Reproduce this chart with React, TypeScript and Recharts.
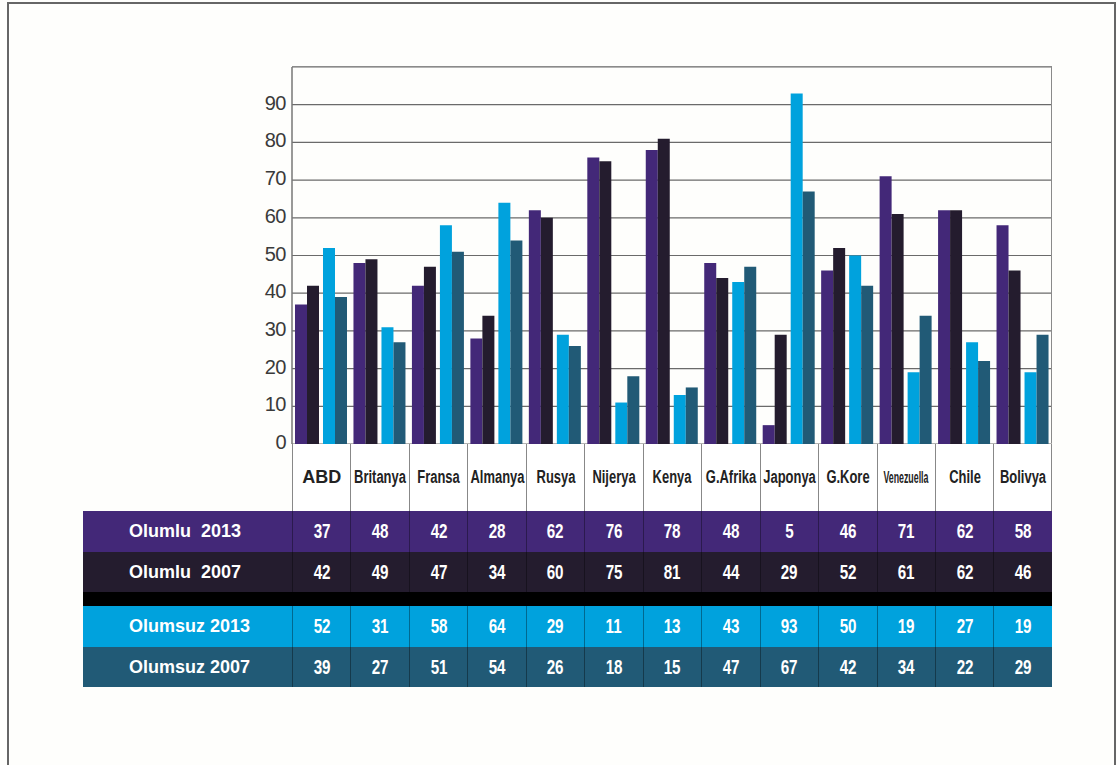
import React from "react";
import { BarChart, Bar, XAxis, YAxis, CartesianGrid } from "recharts";

const countries = ["ABD", "Britanya", "Fransa", "Almanya", "Rusya", "Nijerya", "Kenya", "G.Afrika", "Japonya", "G.Kore", "Venezuella", "Chile", "Bolivya"];
const olumlu2013 = [37, 48, 42, 28, 62, 76, 78, 48, 5, 46, 71, 62, 58];
const olumlu2007 = [42, 49, 47, 34, 60, 75, 81, 44, 29, 52, 61, 62, 46];
const olumsuz2013 = [52, 31, 58, 64, 29, 11, 13, 43, 93, 50, 19, 27, 19];
const olumsuz2007 = [39, 27, 51, 54, 26, 18, 15, 47, 67, 42, 34, 22, 29];
const yTicks = [0, 10, 20, 30, 40, 50, 60, 70, 80, 90];

const rowLabels = ["Olumlu  2013", "Olumlu  2007", "Olumsuz 2013", "Olumsuz 2007"];
const colors = ["#432878", "#241c2e", "#00a2dd", "#215a76"];

const data = countries.map((c, i) => ({
  name: c,
  p13: olumlu2013[i],
  p07: olumlu2007[i],
  n13: olumsuz2013[i],
  n07: olumsuz2007[i],
}));

const rows = [olumlu2013, olumlu2007, olumsuz2013, olumsuz2007];

const sans = "'Liberation Sans', Arial, sans-serif";

const PLOT_L = 292;
const PLOT_R = 1052;
const PLOT_T = 67;
const PLOT_B = 444;
const COL_W = (PLOT_R - PLOT_L) / countries.length;

const YTick = (props: any) => {
  const { x, y, payload } = props;
  return (
    <text x={x + 2} y={y} dy={5} textAnchor="end" fontFamily={sans} fontSize={20} fill="#3a3a3a" letterSpacing={-0.5}>
      {payload.value}
    </text>
  );
};

const Condensed = ({ children, scale }: { children: any; scale: number }) => (
  <span style={{ display: "inline-block", transform: `scaleX(${scale})`, transformOrigin: "center", whiteSpace: "nowrap" }}>{children}</span>
);

export default function App() {
  const rowHeights = [41, 40, 14, 41, 40];
  return (
    <div style={{ position: "absolute", left: 0, top: 0, width: 1117, height: 765, background: "#fefefc", overflow: "hidden" }}>
      <div style={{ position: "absolute", left: 7, top: 2, width: 1105, height: 800, borderLeft: "2px solid #666", borderTop: "2px solid #666", borderRight: "2px solid #666" }} />
      <div style={{ position: "absolute", left: 0, top: 0 }}>
        <BarChart
          width={1117}
          height={765}
          data={data}
          margin={{ left: PLOT_L - 60, right: 1117 - PLOT_R, top: PLOT_T, bottom: 765 - PLOT_B }}
          barGap={0}
          barCategoryGap={0}
        >
          <CartesianGrid vertical={false} stroke="#6a6a6a" strokeWidth={1.2} />
          <XAxis dataKey="name" hide />
          <YAxis
            width={60}
            domain={[0, 100]}
            ticks={yTicks}
            tick={<YTick />}
            tickLine={false}
            axisLine={{ stroke: "#777", strokeWidth: 1.5 }}
            interval={0}
          />
          <Bar dataKey="p13" fill={colors[0]} barSize={12} isAnimationActive={false} />
          <Bar dataKey="p07" fill={colors[1]} barSize={12} isAnimationActive={false} />
          <Bar dataKey="gap" fill="none" barSize={4} isAnimationActive={false} />
          <Bar dataKey="n13" fill={colors[2]} barSize={12} isAnimationActive={false} />
          <Bar dataKey="n07" fill={colors[3]} barSize={12} isAnimationActive={false} />
        </BarChart>
      </div>
      <div style={{ position: "absolute", left: PLOT_L, top: PLOT_T - 1, width: PLOT_R - PLOT_L, height: PLOT_B - PLOT_T, borderTop: "1.5px solid #8a8a8a", borderRight: "1.5px solid #8a8a8a", boxSizing: "border-box", pointerEvents: "none" }} />
      <div style={{ position: "absolute", left: PLOT_L, top: PLOT_B, width: PLOT_R - PLOT_L, height: 67, display: "flex", background: "#fff" }}>
        {countries.map((c, i) => (
          <div
            key={c}
            style={{
              width: COL_W,
              height: 67,
              boxSizing: "border-box",
              borderLeft: "1.5px solid #888",
              borderRight: i === countries.length - 1 ? "1.5px solid #888" : "none",
              display: "flex",
              alignItems: "center",
              justifyContent: "center",
              fontFamily: sans,
              fontWeight: "bold",
              fontSize: c === "Venezuella" ? 16 : c === "ABD" ? 18 : 18,
              color: "#222",
              whiteSpace: "nowrap",
              overflow: "visible",
            }}
          >
            <Condensed scale={c === "Venezuella" ? 0.55 : c === "ABD" ? 1 : 0.72}>{c}</Condensed>
          </div>
        ))}
      </div>
      {(() => {
        let y = PLOT_B + 67;
        const out: any[] = [];
        const rowDefs = [
          { label: rowLabels[0], vals: rows[0], bg: colors[0] },
          { label: rowLabels[1], vals: rows[1], bg: colors[1] },
          { label: "", vals: null as any, bg: "#000" },
          { label: rowLabels[2], vals: rows[2], bg: colors[2] },
          { label: rowLabels[3], vals: rows[3], bg: colors[3] },
        ];
        rowDefs.forEach((r, ri) => {
          const h = rowHeights[ri];
          out.push(
            <div key={ri} style={{ position: "absolute", left: 83, top: y, width: PLOT_R - 83, height: h, background: r.bg, display: "flex" }}>
              <div style={{ width: PLOT_L - 83, height: h, boxSizing: "border-box", paddingLeft: 46, display: "flex", alignItems: "center", color: "#fff", fontFamily: sans, fontWeight: "bold", fontSize: 18, whiteSpace: "pre" }}>
                {r.label}
              </div>
              {countries.map((c, i) => (
                <div
                  key={c}
                  style={{
                    width: COL_W,
                    height: h,
                    boxSizing: "border-box",
                    borderLeft: "1px solid rgba(0,0,0,0.35)",
                    display: "flex",
                    alignItems: "center",
                    justifyContent: "center",
                    color: "#fff",
                    fontFamily: sans,
                    fontWeight: "bold",
                    fontSize: 20,
                  }}
                >
                  {r.vals ? <Condensed scale={0.76}>{r.vals[i]}</Condensed> : ""}
                </div>
              ))}
            </div>
          );
          y += h;
        });
        return out;
      })()}
    </div>
  );
}
